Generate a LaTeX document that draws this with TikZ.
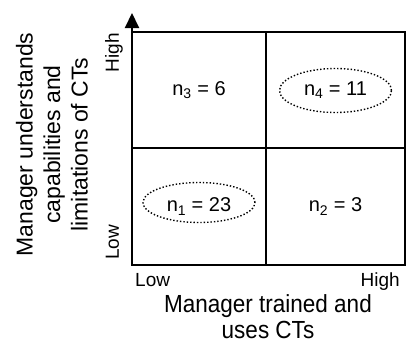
\documentclass[tikz,border=0pt]{standalone}
\usepackage{fontspec}
\setmainfont{Liberation Sans}
\usetikzlibrary{arrows.meta,shapes.geometric}

\begin{document}
\begin{tikzpicture}[x=1pt,y=1pt,
  cell/.style={font=\fontsize{20}{24}\selectfont, inner sep=0pt},
  group/.style={ellipse, draw, dotted, line width=1.4pt, minimum width=112pt, minimum height=44pt},
  tick/.style={font=\fontsize{19}{21}\selectfont, inner sep=0pt},
  axislabel/.style={font=\fontsize{23}{27.5}\selectfont, align=center, inner sep=0pt}]
\useasboundingbox (-132,-76) rectangle (275,265);
% the 2x2 grid
\draw[line width=2pt] (0,0) rectangle (273,233);
\draw[line width=2pt] (134,0)--(134,233);
\draw[line width=2pt] (0,117)--(273,117);
\coordinate (origin) at (0,0);
\coordinate (ytip) at (0,252);
\draw[line width=2pt, -{Triangle[length=15pt,width=14pt]}] (origin)--(ytip);
% cell counts
\node[cell] (n3) at (67,175) {n\textsubscript{3} = 6};
\node[cell] (n4) at (203.5,175) {n\textsubscript{4} = 11};
\node[cell] (n1) at (67,58.5) {n\textsubscript{1} = 23};
\node[cell] (n2) at (203.5,58.5) {n\textsubscript{2} = 3};
\node[group] at ([yshift=-0.5pt]n4) {};
\node[group, minimum height=40pt] at ([yshift=4pt]n1) {};
% axis ticks
\node[tick, anchor=base west] (lowx) at (3,-21) {Low};
\node[tick, anchor=base east] (highx) at (268,-21) {High};
\node[tick, rotate=90, anchor=base west] (lowy) at (-13,5) {Low};
\node[tick, rotate=90, anchor=base east] (highy) at (-13,232) {High};
% axis titles
\node[axislabel, font=\fontsize{22.5}{23.5}\selectfont, yscale=1.1, transform shape, anchor=north] (xlabel) at (136,-29) {Manager trained and\\uses CTs};
\node[axislabel, rotate=90] (ylabel) at (-80,120.5) {Manager understands\\capabilities and\\limitations of CTs};
\end{tikzpicture}
\end{document}
